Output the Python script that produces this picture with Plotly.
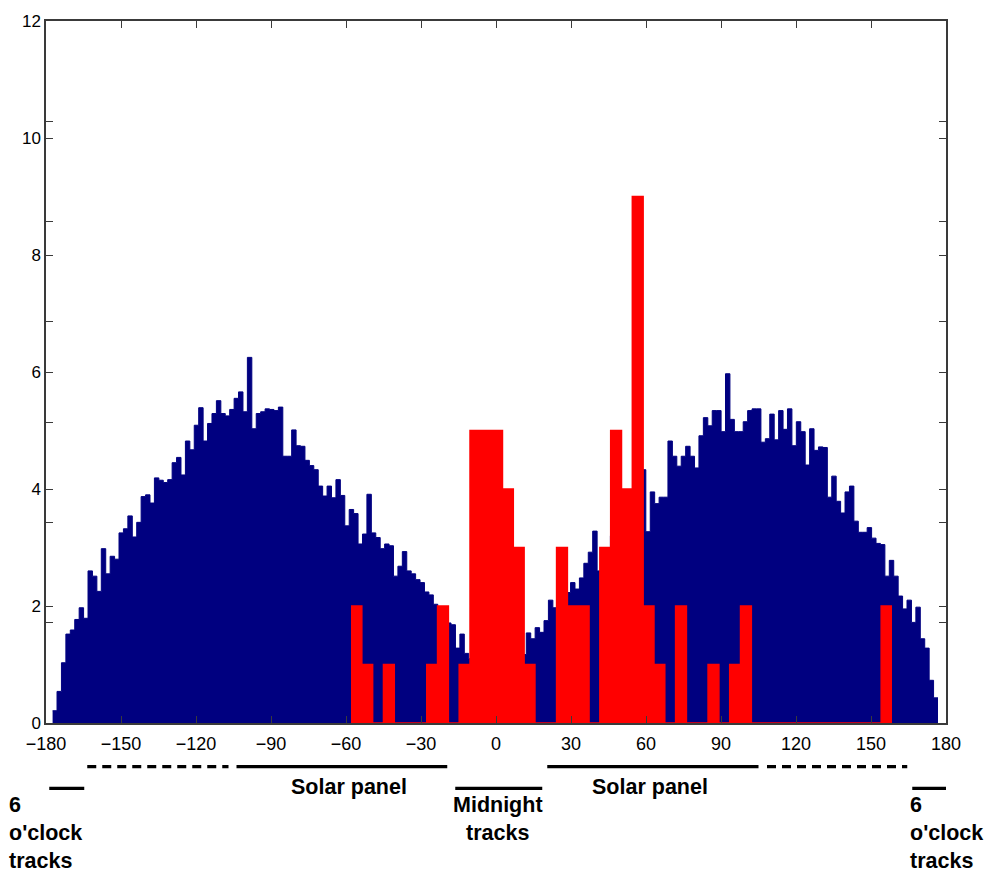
import plotly.graph_objects as go

# ---------------- data ----------------
# Blue histogram: 200 equal bins between the data min and max (degrees)
blue_range = [-177.36, 176.8]
blue_counts = [
    0.21, 0.54, 1.03, 1.52, 1.59, 1.77, 1.97, 1.79, 2.60, 2.51,
    2.25, 2.98, 2.55, 2.85, 2.80, 3.25, 3.32, 3.54, 3.18, 3.43,
    3.87, 3.90, 3.76, 4.19, 4.15, 4.11, 4.16, 4.45, 4.54, 4.24,
    4.82, 4.67, 5.09, 5.39, 4.82, 5.12, 5.29, 5.51, 5.29, 5.25,
    5.36, 5.55, 5.66, 5.32, 6.25, 5.03, 5.29, 5.32, 5.37, 5.36,
    5.34, 5.40, 4.56, 4.56, 5.01, 4.74, 4.73, 4.49, 4.40, 4.33,
    4.05, 3.88, 4.05, 3.85, 4.16, 3.89, 3.37, 3.65, 3.58, 3.06,
    3.23, 3.91, 3.25, 3.17, 2.98, 3.06, 3.03, 2.51, 2.68, 2.93,
    2.60, 2.55, 2.45, 2.40, 2.24, 2.19, 2.03, 1.95, 1.85, 1.71,
    1.68, 1.28, 1.52, 1.19, 1.10, 1.05, 1.00, 0.95, 0.90, 0.90,
    0.95, 1.00, 1.00, 1.05, 1.10, 1.15, 1.17, 1.54, 1.44, 1.63,
    1.55, 1.75, 2.10, 1.97, 2.10, 2.15, 2.23, 2.40, 2.29, 2.48,
    2.73, 2.92, 3.28, 2.60, 2.90, 3.00, 3.20, 3.40, 3.60, 3.80,
    3.90, 4.00, 4.10, 4.33, 3.27, 3.95, 3.75, 3.86, 3.86, 4.82,
    4.56, 4.39, 4.56, 4.73, 4.56, 4.36, 4.91, 5.22, 5.08, 5.34,
    5.34, 4.98, 5.97, 5.19, 4.98, 4.98, 5.15, 5.34, 5.37, 5.37,
    4.80, 4.86, 5.28, 4.84, 5.34, 5.02, 5.37, 4.74, 5.15, 4.98,
    4.41, 5.03, 4.66, 4.72, 4.71, 3.86, 4.22, 3.79, 3.59, 3.95,
    4.05, 3.45, 3.26, 3.26, 3.34, 3.16, 3.07, 3.05, 2.51, 2.78,
    2.51, 2.17, 1.95, 2.10, 1.72, 1.98, 1.44, 1.28, 0.73, 0.43,
]

# Red histogram: 50 equal bins between the data min and max (degrees)
red_range = [-58.0, 158.4]
red_counts = [
    2, 1, 0, 1, 0, 0, 0, 1, 2, 0,
    1, 5, 5, 5, 4, 3, 1, 0, 0, 3,
    2, 2, 0, 3, 5, 4, 9, 2, 1, 0,
    2, 0, 0, 1, 0, 1, 2, 0, 0, 0,
    0, 0, 0, 0, 0, 0, 0, 0, 0, 2,
]

x_ticks = [-180, -150, -120, -90, -60, -30, 0, 30, 60, 90, 120, 150, 180]
y_ticks = [0, 2, 4, 6, 8, 10, 12]
y2_ticks = [0, 2, 4, 6, 8, 10, 12, 14]


def step_outline(rng, counts):
    """Histogram outline: bin edges with each count held across its bin."""
    n = len(counts)
    w = (rng[1] - rng[0]) / n
    edges = [rng[0] + w * i for i in range(n + 1)]
    return edges, list(counts) + [counts[-1]]


BLUE = "rgb(0,0,128)"
RED = "rgb(255,0,0)"
FONT = "Liberation Sans, Arial, Helvetica, sans-serif"

bx, by = step_outline(blue_range, blue_counts)
rx, ry = step_outline(red_range, red_counts)

fig = go.Figure()
fig.add_trace(go.Scatter(x=bx, y=by, mode="lines", line=dict(color=BLUE, width=1, shape="hv"),
                         fill="tozeroy", fillcolor=BLUE, showlegend=False, hoverinfo="x+y"))
fig.add_trace(go.Scatter(x=rx, y=ry, mode="lines", line=dict(color=RED, width=1.5, shape="hv"),
                         fill="tozeroy", fillcolor=RED, showlegend=False, hoverinfo="x+y"))
# overlay axis (second histogram axes) that only contributes tick marks
fig.add_trace(go.Scatter(x=[None], y=[None], yaxis="y2", showlegend=False,
                         hoverinfo="skip"))

axis_col = "#3a3a3a"
fig.update_layout(
    width=991, height=873,
    margin=dict(l=46, r=45, t=15, b=150),
    paper_bgcolor="white", plot_bgcolor="white",
    font=dict(family=FONT, size=18, color="black"),
    xaxis=dict(range=[-180, 180], tickmode="array", tickvals=x_ticks,
               ticks="inside", ticklen=7, tickcolor=axis_col, tickwidth=1,
               showline=True, linecolor=axis_col, linewidth=1.5, mirror="ticks",
               showgrid=False, zeroline=False, tickfont=dict(size=18),
               ticklabelstandoff=4),
    yaxis=dict(range=[0, 12], tickmode="array", tickvals=y_ticks,
               ticks="inside", ticklen=7, tickcolor=axis_col, tickwidth=1,
               showline=True, linecolor=axis_col, linewidth=1.5, mirror="ticks",
               showgrid=False, zeroline=False, tickfont=dict(size=17)),
    yaxis2=dict(range=[0, 14], overlaying="y", side="left", tickmode="array",
                tickvals=y2_ticks, ticks="inside", ticklen=7, tickcolor=axis_col,
                showticklabels=False, showline=False, mirror="ticks",
                showgrid=False, zeroline=False),
)

# ---- annotation bars and labels below the axis ----
ylo = -0.0621   # upper row of bars (paper coords)
yhi = -0.0932   # lower row of bars
seg_solid = [(-103.8, -19.5, ylo), (20.5, 105.0, ylo),
             (-178.7, -164.7, yhi), (-16.3, 18.5, yhi), (166.5, 180.5, yhi)]
seg_dash = [(-163.5, -107.0, ylo), (108.4, 164.5, ylo)]
for x0, x1, yy in seg_solid:
    fig.add_shape(type="line", xref="x", yref="paper", x0=x0, x1=x1, y0=yy, y1=yy,
                  line=dict(color="black", width=3.3))
for x0, x1, yy in seg_dash:
    fig.add_shape(type="line", xref="x", yref="paper", x0=x0, x1=x1, y0=yy, y1=yy,
                  line=dict(color="black", width=3.3, dash="9px,6px"))

lab_font = dict(family=FONT, size=21.5, color="black")
fig.add_annotation(text="<b>Solar panel</b>", x=-58.7, y=-0.0918, xref="x", yref="paper",
                   showarrow=False, xanchor="center", yanchor="middle", font=lab_font)
fig.add_annotation(text="<b>Solar panel</b>", x=61.7, y=-0.0918, xref="x", yref="paper",
                   showarrow=False, xanchor="center", yanchor="middle", font=lab_font)
fig.add_annotation(text="<b>Midnight<br>tracks</b>", x=0.9, y=-0.0975, xref="x", yref="paper",
                   showarrow=False, xanchor="center", yanchor="top", align="center", font=lab_font)
fig.add_annotation(text="<b>6<br>o'clock<br>tracks</b>", x=-0.0435, y=-0.0975, xref="paper",
                   yref="paper", showarrow=False, xanchor="left", yanchor="top", align="left",
                   font=lab_font)
fig.add_annotation(text="<b>6<br>o'clock<br>tracks</b>", x=164.9, y=-0.0975, xref="x",
                   yref="paper", showarrow=False, xanchor="left", yanchor="top", align="left",
                   font=lab_font)

fig.write_html("out.html")
